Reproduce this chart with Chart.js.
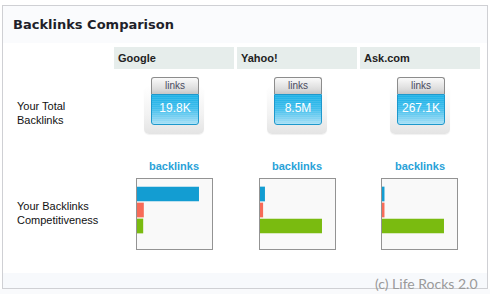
<!DOCTYPE html>
<html lang="en">
<head>
    <meta charset="UTF-8">
    <title>Backlinks Comparison</title>
    <style>
        body {
            margin: 0;
            width: 490px;
            height: 294px;
            background: #ffffff;
            font-family: "Liberation Sans", Arial, sans-serif;
            position: relative;
            overflow: hidden;
        }
        #page-bottom {
            position: absolute; left: 0; top: 289px; width: 490px; height: 5px;
            background: #f9fafc;
        }
        #frame {
            position: absolute; left: 2px; top: 5px;
            width: 484px; height: 282px;
            border: 1px solid #cfd0d4;
            background: #ffffff;
        }
        #titleBar {
            position: absolute; left: 0; top: 0; width: 484px; height: 37px;
            background: #fafbfd;
        }
        #titleBar h1 {
            margin: 0;
            position: absolute; left: 10px; top: 11px;
            font: bold 13px "DejaVu Sans", Verdana, sans-serif;
            color: #1f1f2a;
        }
        #footBar {
            position: absolute; left: 0; top: 267px; width: 484px; height: 15px;
            background: #f7f9fc;
        }
        .head {
            position: absolute; top: 41px; width: 120px; height: 22px;
            background: #e6edeb;
            font-weight: bold; font-size: 11px; color: #222;
            line-height: 22px; text-indent: 4px;
        }
        .rowLabel {
            position: absolute; left: 14px;
            font-size: 11px; line-height: 14px; color: #111;
        }
        .card {
            position: absolute; width: 60px; height: 48px;
            border-radius: 5px;
            background: linear-gradient(#ffffff, #f2f2f2 60%, #e4e4e4);
            box-shadow: 0 1px 1px rgba(0,0,0,0.06);
        }
        .btn {
            position: absolute; width: 48px; height: 48px;
        }
        .btn .top {
            border: 1px solid #8c8c8c; border-bottom: none;
            border-radius: 3px 3px 0 0;
            background: linear-gradient(#fafafa, #dcdcdc 70%, #c6c6c6);
            font-size: 10px; line-height: 16px; text-align: center; color: #4a4a60;
            box-sizing: border-box; height: 17px;
        }
        .btn .val {
            height: 31px; box-sizing: border-box;
            border: 1px solid #1e98cc;
            border-radius: 0 0 3px 3px;
            background:
                repeating-linear-gradient(to bottom, rgba(255,255,255,0.10) 0 1px, rgba(255,255,255,0) 1px 2px),
                linear-gradient(#1cb0e6, #3dbdec 45%, #80d2f2 80%, #a8e0f6);
            color: #ffffff; font-size: 12px; text-align: center; line-height: 27px;
        }
        .barTitle {
            position: absolute; top: 154px; width: 120px; text-align: center;
            font-weight: bold; font-size: 11px; color: #2aa2d8;
        }
        .barBox {
            position: absolute; top: 172px; width: 75px; height: 70px;
            border: 1px solid #939393;
            background: #f9f9f9;
        }
        .barBox canvas { display: block; }
        #credit {
            position: absolute; left: 375px; top: 275px;
            font-family: Lato, "Open Sans", sans-serif; font-size: 14px;
            color: #9a9a9a;
        }
    </style>
    <script src="https://cdn.jsdelivr.net/npm/chart.js"></script>
</head>
<body>
    <div id="page-bottom"></div>
    <div id="frame">
        <div id="titleBar"><h1>Backlinks Comparison</h1></div>
        <div id="footBar"></div>
        <div class="rowLabel" style="top:93px">Your Total<br>Backlinks</div>
        <div class="rowLabel" style="top:193px">Your Backlinks<br>Competitiveness</div>
    </div>
    <div id="credit">(c) Life Rocks 2.0</div>

    <script>
        // search engines and totals
        const engines = ['Google', 'Yahoo!', 'Ask.com'];
        const totalBacklinks = ['19.8K', '8.5M', '267.1K'];

        // competitiveness bars (relative to the longest bar, per engine)
        const sites = ['Site 1', 'Site 2', 'Site 3'];
        const googleBars = [100, 11, 10];
        const yahooBars = [8, 5, 100];
        const askBars = [4, 4, 100];
        const barColors = ['#139dd2', '#f76b58', '#7abb10'];

        const frame = document.getElementById('frame');
        const colLeft = [111, 234, 357];   // header cell left, inside frame
        const boxLeft = [133, 256, 378];
        const allBars = [googleBars, yahooBars, askBars];

        engines.forEach((name, i) => {
            const x = colLeft[i];

            const head = document.createElement('div');
            head.className = 'head';
            head.style.left = x + 'px';
            head.textContent = name;
            frame.appendChild(head);

            const card = document.createElement('div');
            card.className = 'card';
            card.style.left = (x + 30) + 'px';
            card.style.top = '80px';
            frame.appendChild(card);

            const btn = document.createElement('div');
            btn.className = 'btn';
            btn.style.left = (x + 37) + 'px';
            btn.style.top = '71px';
            btn.innerHTML = '<div class="top">links</div><div class="val"></div>';
            btn.querySelector('.val').textContent = totalBacklinks[i];
            frame.appendChild(btn);

            const title = document.createElement('div');
            title.className = 'barTitle';
            title.style.left = x + 'px';
            title.textContent = 'backlinks';
            frame.appendChild(title);

            const box = document.createElement('div');
            box.className = 'barBox';
            box.style.left = boxLeft[i] + 'px';
            const cv = document.createElement('canvas');
            cv.width = 75; cv.height = 70;
            box.appendChild(cv);
            frame.appendChild(box);

            new Chart(cv, {
                type: 'bar',
                data: {
                    labels: sites,
                    datasets: [{
                        data: allBars[i],
                        backgroundColor: barColors,
                        borderWidth: 0,
                        barPercentage: 0.92,
                        categoryPercentage: 1
                    }]
                },
                options: {
                    indexAxis: 'y',
                    responsive: false,
                    animation: false,
                    layout: { padding: { top: 7, bottom: 15, left: 0, right: 0 } },
                    plugins: { legend: { display: false }, tooltip: { enabled: false } },
                    scales: {
                        x: { display: false, min: 0, max: 121 },
                        y: { display: false }
                    }
                }
            });
        });
    </script>
</body>
</html>
